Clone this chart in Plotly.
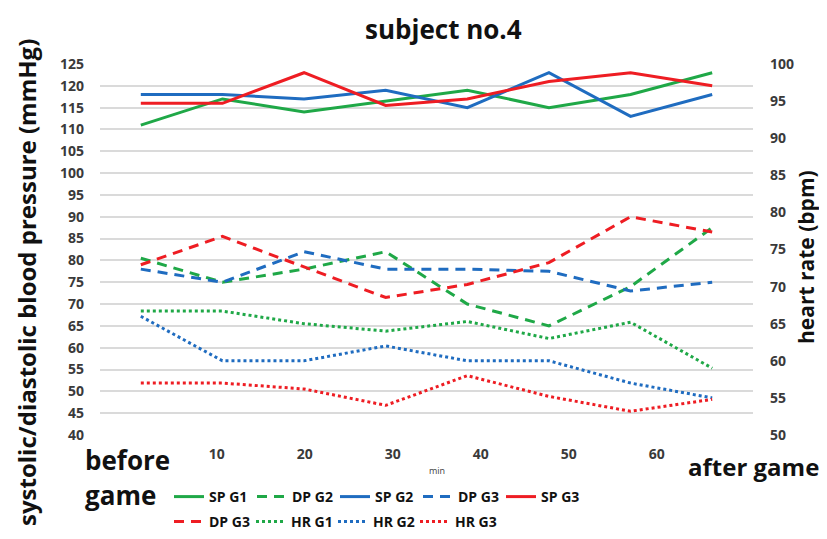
import plotly.graph_objects as go

# ---- data ----
points = ["before game", "10", "20", "30", "40", "50", "60", "after game"]
tick_labels = ["10", "20", "30", "40", "50", "60"]

sp_g1 = [111, 117, 114, 116.5, 119, 115, 118, 123]
sp_g2 = [118, 118, 117, 119, 115, 123, 113, 118]
sp_g3 = [116, 116, 123, 115.5, 117, 121, 123, 120]
dp_green = [80.5, 75, 78, 82, 70, 65, 74, 87.5]
dp_blue = [78, 75, 82, 78, 78, 77.5, 73, 75]
dp_red = [79, 85.5, 78.5, 71.5, 74.5, 79.5, 90, 86.5]
hr_g1 = [66.7, 66.7, 65, 64, 65.3, 63, 65.2, 59]
hr_g2 = [66, 60, 60, 62, 60, 60, 57, 55]
hr_g3 = [57, 57, 56.2, 54, 58, 55.2, 53.2, 54.8]

# ---- styling ----
GREEN = "#1fa847"
BLUE = "#1f6cc0"
RED = "#ee1d23"
FONT = "Open Sans"
PAGE_MARGIN = 8            # default <body> margin of the written page
W, H = 827 - 2 * PAGE_MARGIN, 539 - 2 * PAGE_MARGIN
# plot area in page pixels: x 100..753, y 64..435
L, R, T, B = 100 - PAGE_MARGIN, 827 - 753 - PAGE_MARGIN, 64 - PAGE_MARGIN, 539 - 435 - PAGE_MARGIN
PW, PH = 653, 371


def px_x(p):
    return (p - 100) / PW


def px_y(p):
    return (435 - p) / PH


xi = list(range(len(points)))

fig = go.Figure()

series = [
    ("SP G1", sp_g1, GREEN, "solid", "y", "legend"),
    ("DP G2", dp_green, GREEN, "10px,7px", "y", "legend"),
    ("SP G2", sp_g2, BLUE, "solid", "y", "legend"),
    ("DP G3", dp_blue, BLUE, "10px,7px", "y", "legend"),
    ("SP G3", sp_g3, RED, "solid", "y", "legend"),
    ("DP G3", dp_red, RED, "10px,7px", "y", "legend2"),
    ("HR G1", hr_g1, GREEN, "3px,3px", "y2", "legend2"),
    ("HR G2", hr_g2, BLUE, "3px,3px", "y2", "legend2"),
    ("HR G3", hr_g3, RED, "3px,3px", "y2", "legend2"),
]

for name, vals, color, dash, yax, leg in series:
    fig.add_trace(go.Scatter(
        x=xi, y=vals, name=name, mode="lines", yaxis=yax, legend=leg,
        line=dict(color=color, width=3, dash=dash),
        text=points, hovertemplate="%{text}: %{y}<extra>" + name + "</extra>",
    ))

tick_pos = [0.93 + 1.078 * k for k in range(len(tick_labels))]

tickfont = dict(family=FONT, size=14, color="#3a3a3a", weight="bold")
big = dict(family=FONT, size=26, color="#111111", weight="bold")
legfont = dict(family=FONT, size=14, color="#111111", weight="bold")

fig.update_layout(
    width=W, height=H, autosize=False,
    margin=dict(l=L, r=R, t=T, b=B, autoexpand=False),
    paper_bgcolor="white", plot_bgcolor="white",
    xaxis=dict(range=[-0.5, 7.5], showgrid=False, zeroline=False, showline=False,
               tickvals=tick_pos, ticktext=tick_labels, ticks="",
               tickfont=tickfont, ticklabelstandoff=9),
    yaxis=dict(range=[40, 125], tick0=40, dtick=5, showgrid=True,
               gridcolor="#dadada", gridwidth=1.5, zeroline=False, showline=False,
               ticks="", tickfont=tickfont, ticklabelstandoff=15),
    yaxis2=dict(range=[50, 100], tick0=50, dtick=5, overlaying="y", side="right",
                showgrid=False, zeroline=False, showline=False, ticks="",
                tickfont=tickfont, ticklabelstandoff=16),
    legend=dict(orientation="h", x=px_x(169), y=px_y(497), xanchor="left", yanchor="middle",
                entrywidth=38, entrywidthmode="pixels", itemwidth=30,
                font=legfont, bgcolor="rgba(0,0,0,0)", traceorder="normal"),
    legend2=dict(orientation="h", x=px_x(169), y=px_y(522), xanchor="left", yanchor="middle",
                 entrywidth=37, entrywidthmode="pixels", itemwidth=30,
                 font=legfont, bgcolor="rgba(0,0,0,0)", traceorder="normal"),
    showlegend=True,
)

annotations = [
    dict(text="subject no.4", x=px_x(443), y=px_y(9), font=big,
         xanchor="center", yanchor="top"),
    dict(text="systolic/diastolic blood pressure (mmHg)", x=px_x(26), y=px_y(283),
         textangle=-90, font=dict(family=FONT, size=24, color="#111111", weight="bold"),
         xanchor="center", yanchor="middle"),
    dict(text="heart rate (bpm)", x=px_x(806), y=px_y(257), textangle=-90,
         font=dict(family=FONT, size=21, color="#111111", weight="bold"),
         xanchor="center", yanchor="middle"),
    dict(text="before", x=px_x(83), y=px_y(460), font=big, xanchor="left", yanchor="middle"),
    dict(text="game", x=px_x(83), y=px_y(495), font=big, xanchor="left", yanchor="middle"),
    dict(text="after game", x=px_x(686), y=px_y(466),
         font=dict(family=FONT, size=24, color="#111111", weight="bold"),
         xanchor="left", yanchor="middle"),
    dict(text="min", x=px_x(437), y=px_y(470), font=dict(family=FONT, size=9, color="#404040"),
         xanchor="center", yanchor="middle"),
]
for a in annotations:
    a.update(xref="paper", yref="paper", showarrow=False)
fig.update_layout(annotations=annotations)

fig.write_html("out.html", config={"responsive": False, "displayModeBar": False})
